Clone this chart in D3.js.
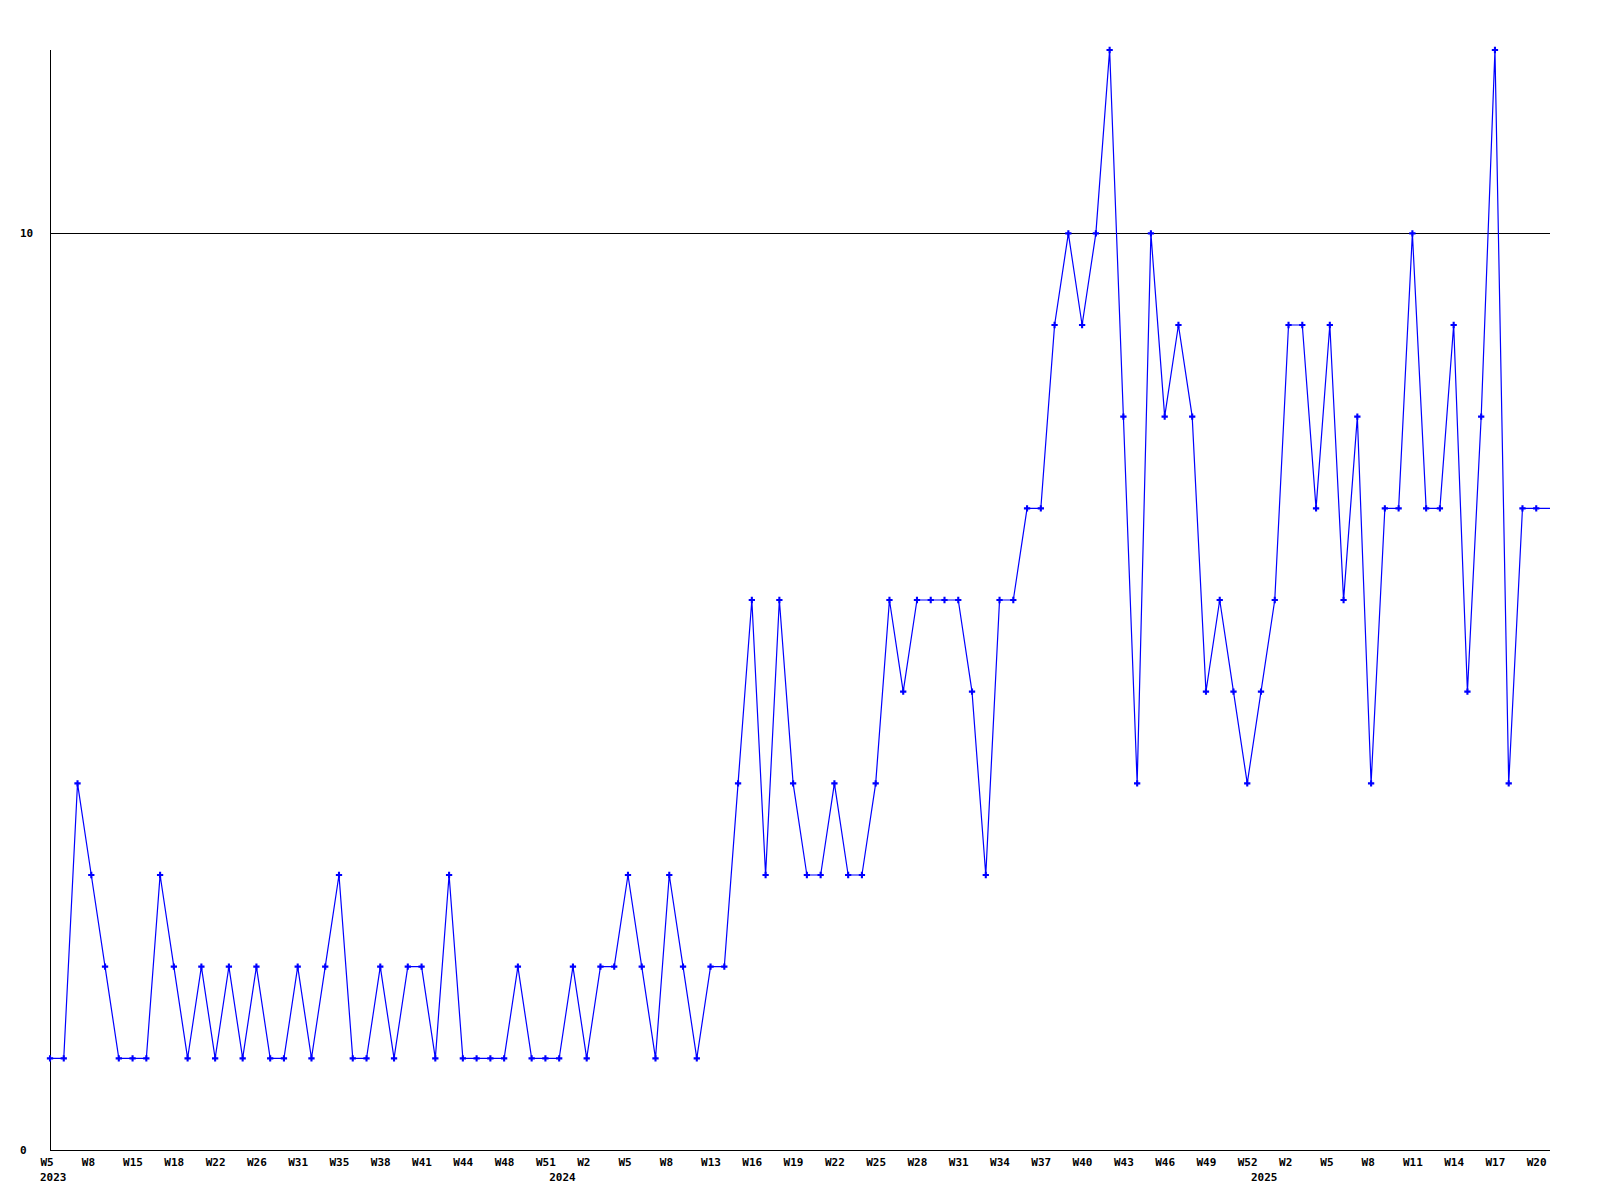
<!DOCTYPE html>
<html>
<head>
<meta charset="utf-8">
<script src="https://cdn.jsdelivr.net/npm/d3@7"></script>
<style>
  html, body { margin: 0; padding: 0; background: #fff; }
  svg { display: block; }
  text { font-family: "DejaVu Sans Mono", "Liberation Mono", monospace; font-weight: bold; font-size: 11px; fill: #000; }
</style>
</head>
<body>
<svg id="chart" width="1600" height="1200"></svg>
<script>
// Weekly values, one per plotted week (equally spaced, 110 points)
const values = [
  1,1,4,3,2,1,1,1,3,2,
  1,2,1,2,1,2,1,1,2,1,
  2,3,1,1,2,1,2,2,1,3,
  1,1,1,1,2,1,1,1,2,1,
  2,2,3,2,1,3,2,1,2,2,
  4,6,3,6,4,3,3,4,3,3,
  4,6,5,6,6,6,6,5,3,6,
  6,7,7,9,10,9,10,12,8,4,
  10,8,9,8,5,6,5,4,5,6,
  9,9,7,9,6,8,4,7,7,10,
  7,7,9,5,8,12,4,7,7,7
];

// Week tick labels, shown at every third point
const tickLabels = [
  "W5","W8","W15","W18","W22","W26","W31","W35","W38","W41","W44","W48","W51",
  "W2","W5","W8","W13","W16","W19","W22","W25","W28","W31","W34","W37","W40","W43","W46","W49","W52",
  "W2","W5","W8","W11","W14","W17","W20"
];
const tickStep = 3;

// Year labels and the point index where each year starts
const years = ["2023", "2024", "2025"];
const yearStartIndex = [0, 37, 88];

// Y axis labelled values and reference line
const yTickValues = [0, 10];
const yMax = 12;
const refValue = 10;

(function () {
  const svg = d3.select("#chart");
  const mLeft = 50, mRight = 1550, mTop = 50, mBottom = 1150;

  const indices = d3.range(values.length);
  const x = d3.scaleLinear().domain([0, values.length - 1]).range([mLeft, mRight]);
  const y = d3.scaleLinear().domain([0, yMax]).range([mBottom, mTop]);

  // Reference line at 10
  svg.append("line")
    .attr("x1", mLeft).attr("x2", mRight)
    .attr("y1", Math.round(y(refValue)) + 0.5).attr("y2", Math.round(y(refValue)) + 0.5)
    .attr("stroke", "#000").attr("stroke-width", 1).attr("shape-rendering", "crispEdges");

  // Axes frame lines
  svg.append("line")
    .attr("x1", mLeft + 0.5).attr("x2", mLeft + 0.5)
    .attr("y1", mTop).attr("y2", mBottom)
    .attr("stroke", "#000").attr("stroke-width", 1).attr("shape-rendering", "crispEdges");
  svg.append("line")
    .attr("x1", mLeft).attr("x2", mRight)
    .attr("y1", mBottom + 0.5).attr("y2", mBottom + 0.5)
    .attr("stroke", "#000").attr("stroke-width", 1).attr("shape-rendering", "crispEdges");

  // Bottom axis (week labels)
  const tickIdx = tickLabels.map((_, i) => i * tickStep);
  const xAxis = d3.axisBottom(x)
    .tickValues(tickIdx)
    .tickSize(0)
    .tickPadding(0)
    .tickFormat((d, i) => tickLabels[i]);
  const gx = svg.append("g").attr("transform", `translate(0,${mBottom})`).call(xAxis);
  gx.select(".domain").remove();
  gx.selectAll("text")
    .attr("text-anchor", "start")
    .attr("dx", -10)
    .attr("y", 16)
    .attr("dy", 0)
    .style("font-family", "'DejaVu Sans Mono', monospace")
    .style("font-weight", "bold")
    .style("font-size", "11px")
    .style("fill", "#000");

  // Year labels
  svg.append("g").selectAll("text")
    .data(years)
    .join("text")
    .attr("x", (d, i) => x(yearStartIndex[i]) - 10)
    .attr("y", mBottom + 31)
    .text(d => d);

  // Left axis labels
  const yAxis = d3.axisLeft(y).tickValues(yTickValues).tickSize(0).tickPadding(0);
  const gy = svg.append("g").attr("transform", `translate(${mLeft},0)`).call(yAxis);
  gy.select(".domain").remove();
  gy.selectAll("text")
    .attr("text-anchor", "start")
    .attr("x", -30)
    .attr("dy", "0.32em")
    .style("font-family", "'DejaVu Sans Mono', monospace")
    .style("font-weight", "bold")
    .style("font-size", "11px")
    .style("fill", "#000");

  // Data line
  const line = d3.line().x(i => x(i)).y(i => y(values[i]));
  svg.append("path")
    .datum(indices)
    .attr("d", line)
    .attr("fill", "none")
    .attr("stroke", "#0000ff")
    .attr("stroke-width", 1.2);

  // Markers (the last, current week has none)
  const marker = d3.symbol().type(d3.symbolCross).size(22);
  svg.append("g").selectAll("path")
    .data(indices.slice(0, values.length - 1))
    .join("path")
    .attr("transform", i => `translate(${x(i)},${y(values[i])})`)
    .attr("d", marker)
    .attr("fill", "#0000ff");
})();
</script>
</body>
</html>
